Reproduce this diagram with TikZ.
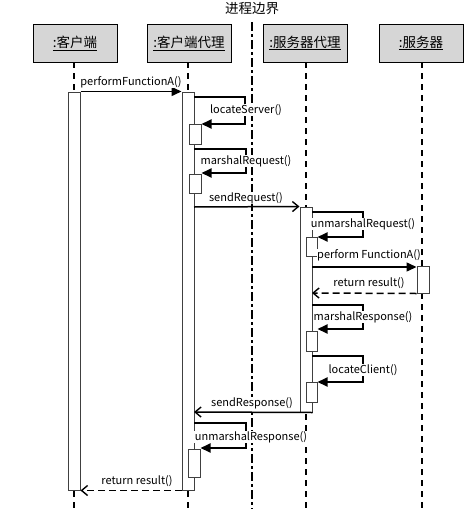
\documentclass[tikz,border=0pt]{standalone}
\usepackage{fontspec}
\setmainfont{Noto Sans CJK SC}
\usetikzlibrary{arrows.meta}
\begin{document}
\begin{tikzpicture}[x=1pt,y=-1pt,
  hdr/.style={draw=black,line width=0.8pt,fill=black!16,minimum width=84pt,minimum height=38pt,inner sep=0pt,font=\fontsize{13.5}{15}\selectfont},
  life/.style={line width=2pt,dash pattern=on 6pt off 5pt},
  bound/.style={line width=2pt,dash pattern=on 9pt off 3pt on 3pt off 3pt},
  bar/.style={draw=black!75,line width=1pt,fill=white,inner sep=0pt},
  msg/.style={line width=1.5pt,-{Triangle[length=10pt,width=9pt]}},
  amsg/.style={line width=1.5pt,-{Straight Barb[length=6pt,width=10pt,line width=1.4pt]}},
  rmsg/.style={line width=1.5pt,dash pattern=on 7pt off 4pt,-{Straight Barb[length=6pt,width=10pt,line width=1.4pt]}},
  selfm/.style={line width=1.8pt,-{Triangle[length=10pt,width=9pt]}},
  lbl/.style={font=\fontsize{11}{13}\selectfont,inner sep=0.5pt,fill=white}
]
\useasboundingbox (0,0) rectangle (465,509);
% header boxes
\node[hdr] (h1) at (75,43) {\underline{:客户端}};
\node[hdr] (h2) at (189,43) {\underline{:客户端代理}};
\node[hdr] (h3) at (305,43) {\underline{:服务器代理}};
\node[hdr] (h4) at (421,43) {\underline{:服务器}};
\node[font=\fontsize{13.5}{15}\selectfont,inner sep=0pt] (bt) at (252,9) {进程边界};
% lifelines
\coordinate (e1) at (74,509);
\coordinate (e2) at (188,509);
\coordinate (e3) at (306,509);
\coordinate (e4) at (422,509);
\draw[life] (74,62) -- (e1);
\draw[life] (188,62) -- (e2);
\draw[life] (306,62) -- (e3);
\draw[life] (422,62) -- (e4);
\coordinate (b0) at (252,22);
\coordinate (b1) at (252,509);
\draw[bound] (b0) -- (b1);
% activation bars
\node[bar,minimum width=12pt,minimum height=398pt] (a1) at (74,291) {};
\node[bar,minimum width=12pt,minimum height=398pt] (a2) at (188,291) {};
\node[bar,minimum width=12pt,minimum height=20pt] (s1) at (195,134) {};
\node[bar,minimum width=12pt,minimum height=19pt] (s2) at (195,184) {};
\node[bar,minimum width=12pt,minimum height=28pt] (s3) at (194,463) {};
\node[bar,minimum width=12pt,minimum height=205pt] (a3) at (306,309.5) {};
\node[bar,minimum width=11pt,minimum height=19pt] (s4) at (311.5,246.5) {};
\node[bar,minimum width=11pt,minimum height=20pt] (s5) at (311.5,341) {};
\node[bar,minimum width=11pt,minimum height=20pt] (s6) at (311.5,392) {};
\node[bar,minimum width=12pt,minimum height=27pt] (a4) at (423,279.5) {};
% performFunctionA
\draw[msg] (a1.north east) -- (a2.north west);
\node[lbl] (l0) at (131,82) {performFunctionA()};
% locateServer
\coordinate (c1) at (194,97);
\coordinate (c1b) at (245,97);
\coordinate (c1c) at (245,124);
\draw[selfm] (c1) -- (c1b) -- (c1c) -- (s1.north east |- c1c);
\node[lbl] (l1) at (246,110) {locateServer()};
% marshalRequest
\coordinate (c2) at (194,149);
\coordinate (c2b) at (246,149);
\coordinate (c2c) at (246,173);
\draw[selfm] (c2) -- (c2b) -- (c2c) -- (s2.north east |- c2c);
\node[lbl] (l2) at (246,161) {marshalRequest()};
% sendRequest
\coordinate (c3) at (194,207);
\draw[amsg] (c3) -- (a3.north west);
\node[lbl] (l3) at (246,198) {sendRequest()};
% unmarshalRequest
\coordinate (c4) at (312,212);
\coordinate (c4b) at (363,212);
\coordinate (c4c) at (363,237);
\draw[selfm] (c4) -- (c4b) -- (c4c) -- (s4.north east |- c4c);
\node[lbl] (l4) at (363,224) {unmarshalRequest()};
% perform FunctionA
\coordinate (c5) at (312,267);
\draw[msg] (c5) -- (a4.west |- c5);
\node[lbl] (l5) at (369,255) {perform FunctionA()};
% return result
\coordinate (c6) at (312,293);
\draw[rmsg] (a4.south west) -- (c6);
\node[lbl] (l6) at (369,283) {return result()};
% marshalResponse
\coordinate (c7) at (312,305);
\coordinate (c7b) at (363,305);
\coordinate (c7c) at (363,329);
\draw[selfm] (c7) -- (c7b) -- (c7c) -- (s5.north east |- c7c);
\node[lbl] (l7) at (363,317) {marshalResponse()};
% locateClient
\coordinate (c8) at (312,356);
\coordinate (c8b) at (363,356);
\coordinate (c8c) at (363,382);
\draw[selfm] (c8) -- (c8b) -- (c8c) -- (s6.north east |- c8c);
\node[lbl] (l8) at (363,370) {locateClient()};
% sendResponse
\coordinate (c9) at (194,412);
\draw[amsg] (a3.south east) -- (c9);
\node[lbl] (l9) at (252,403) {sendResponse()};
% unmarshalResponse
\coordinate (c10) at (194,423);
\coordinate (c10b) at (246,423);
\coordinate (c10c) at (246,448);
\draw[selfm] (c10) -- (c10b) -- (c10c) -- (s3.north east |- c10c);
\node[lbl] (l10) at (251,437) {unmarshalResponse()};
% return result to client
\draw[rmsg] (a2.south west) -- (a1.south east);
\node[lbl] (l11) at (137,481) {return result()};
\end{tikzpicture}
\end{document}
